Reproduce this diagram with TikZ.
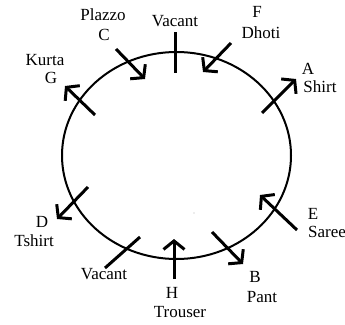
\documentclass[tikz,border=0pt]{standalone}
\usepackage{fontspec}
\setmainfont{Liberation Serif}
\usetikzlibrary{arrows.meta,shapes.geometric}
\begin{document}
\begin{tikzpicture}[x=1pt,y=-1pt,
  lbl/.style={inner sep=0pt,font=\fontsize{17}{19}\selectfont},
  mk/.style={line width=3pt},
  mkarrow/.style={line width=3pt,-{Straight Barb[length=8.5pt,width=21pt]}}]
\useasboundingbox (0,0) rectangle (345,324);
\node[draw,ellipse,line width=2pt,minimum width=229pt,minimum height=207pt,inner sep=0pt] (circ) at (176.5,155.5) {};
% coordinates of marker ends
\coordinate (v1a) at (175,32); \coordinate (v1b) at (175,73);
\coordinate (ca) at (116,49); \coordinate (cb) at (145,79);
\coordinate (fa) at (231,43); \coordinate (fb) at (203,72);
\coordinate (aa) at (262,113); \coordinate (ab) at (296,79);
\coordinate (ga) at (95,115); \coordinate (gb) at (65,86);
\coordinate (da) at (88,187); \coordinate (db) at (57,219);
\coordinate (v2a) at (140,237); \coordinate (v2b) at (105,268);
\coordinate (ha) at (174,279); \coordinate (hb) at (174,239);
\coordinate (ba) at (212,232); \coordinate (bb) at (243,264);
\coordinate (ea) at (297,230); \coordinate (eb) at (260,195);
\draw[mk] (v1a) -- (v1b);
\draw[mkarrow] (ca) -- (cb);
\draw[mkarrow] (fa) -- (fb);
\draw[mkarrow] (aa) -- (ab);
\draw[mkarrow] (ga) -- (gb);
\draw[mkarrow] (da) -- (db);
\draw[mk] (v2a) -- (v2b);
\draw[mkarrow] (ha) -- (hb);
\draw[mkarrow] (ba) -- (bb);
\draw[mkarrow] (ea) -- (eb);
% labels
\node[lbl] (tplazzo) at (103,15) {Plazzo};
\node[lbl] (tc) at (104,35) {C};
\node[lbl] (tvac1) at (175,21) {Vacant};
\node[lbl] (tf) at (257,12) {F};
\node[lbl] (tdhoti) at (261,33) {Dhoti};
\node[lbl] (tkurta) at (45,60) {Kurta};
\node[lbl] (tg) at (51,78) {G};
\node[lbl] (ta) at (308,69) {A};
\node[lbl] (tshirt) at (320,87) {Shirt};
\node[lbl] (td) at (42,222) {D};
\node[lbl] (ttshirt) at (34,241) {Tshirt};
\node[lbl] (tvac2) at (104,274) {Vacant};
\node[lbl] (th) at (172,293) {H};
\node[lbl] (ttrouser) at (180,312) {Trouser};
\node[lbl] (tb) at (255,277) {B};
\node[lbl] (tpant) at (262,297) {Pant};
\node[lbl] (te) at (313,214) {E};
\node[lbl,anchor=west] (tsaree) at (308,232) {Saree};
\fill[gray!60] (194,213) circle (0.6pt);
\end{tikzpicture}
\end{document}
